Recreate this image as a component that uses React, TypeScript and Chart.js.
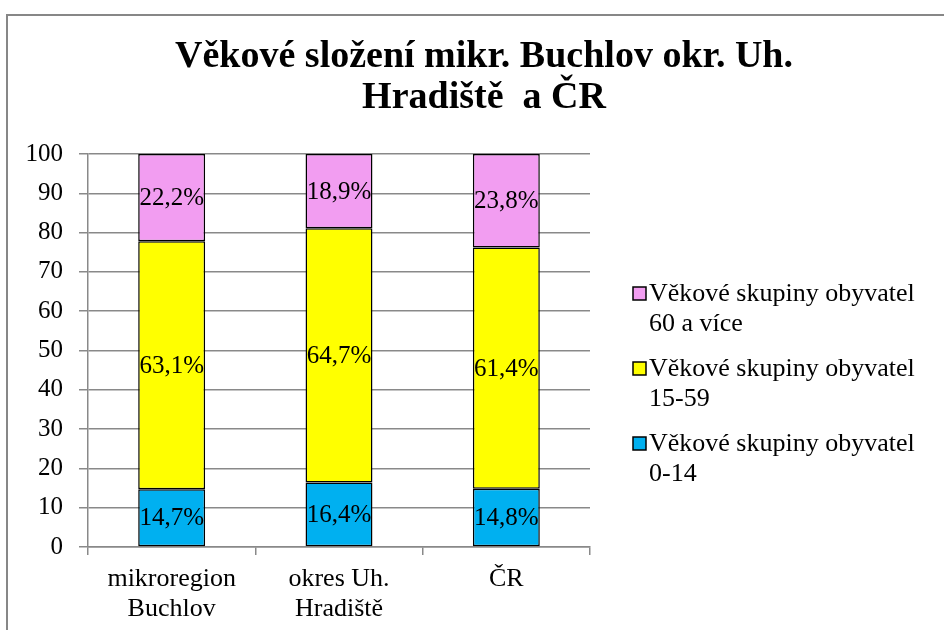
import React, { useEffect, useRef } from 'react';
import { Chart, registerables } from 'chart.js';

Chart.register(...registerables);

const categories: (string | string[])[] = [['mikroregion', 'Buchlov'], ['okres Uh.', 'Hradiště'], 'ČR'];
const age0to14 = [14.7, 16.4, 14.8];
const age15to59 = [63.1, 64.7, 61.4];
const age60plus = [22.2, 18.9, 23.8];
const seriesLabels = [
  ['Věkové skupiny obyvatel', '0-14'],
  ['Věkové skupiny obyvatel', '15-59'],
  ['Věkové skupiny obyvatel', '60 a více'],
];
const seriesColors = ['#00B0F0', '#FFFF00', '#F29DF1'];
const titleLines = ['Věkové složení mikr. Buchlov okr. Uh.', 'Hradiště  a ČR'];
const yMin = 0;
const yMax = 100;
const yStep = 10;

const FONT = '"Liberation Serif", "Times New Roman", serif';
const GRID = '#898989';

const titlePlugin = {
  id: 'customTitle',
  afterDraw(chart: any) {
    const ctx = chart.ctx;
    ctx.save();
    ctx.fillStyle = '#000';
    ctx.font = `bold 38px ${FONT}`;
    ctx.textAlign = 'center';
    ctx.textBaseline = 'alphabetic';
    titleLines.forEach((line, i) => ctx.fillText(line, 484, 67 + i * 41));
    ctx.restore();
  },
};

const dataLabelPlugin = {
  id: 'dataLabels',
  afterDatasetsDraw(chart: any) {
    const ctx = chart.ctx;
    ctx.save();
    ctx.fillStyle = '#000';
    ctx.font = `25px ${FONT}`;
    ctx.textAlign = 'center';
    ctx.textBaseline = 'middle';
    chart.data.datasets.forEach((ds: any, di: number) => {
      const meta = chart.getDatasetMeta(di);
      meta.data.forEach((bar: any, i: number) => {
        const v = ds.data[i];
        const txt = v.toFixed(1).replace('.', ',') + '%';
        ctx.fillText(txt, bar.x, (bar.y + bar.base) / 2 + 1);
      });
    });
    ctx.restore();
  },
};

const legendPlugin = {
  id: 'customLegend',
  afterDraw(chart: any) {
    const ctx = chart.ctx;
    const dss = chart.data.datasets;
    ctx.save();
    ctx.font = `26px ${FONT}`;
    ctx.textAlign = 'left';
    ctx.textBaseline = 'alphabetic';
    for (let k = 0; k < dss.length; k++) {
      const di = dss.length - 1 - k;
      const ds = dss[di];
      const base = 301 + k * 75;
      ctx.fillStyle = ds.backgroundColor;
      ctx.fillRect(633, base - 14, 13, 13);
      ctx.strokeStyle = '#000';
      ctx.lineWidth = 1.5;
      ctx.strokeRect(633, base - 14, 13, 13);
      ctx.fillStyle = '#000';
      const lines: string[] = seriesLabels[di];
      lines.forEach((ln, j) => ctx.fillText(ln, 649, base + j * 30));
    }
    ctx.restore();
  },
};

export default function App() {
  const ref = useRef<HTMLCanvasElement | null>(null);
  useEffect(() => {
    if (!ref.current) return;
    const series = [age0to14, age15to59, age60plus];
    const chart = new Chart(ref.current, {
      type: 'bar',
      data: {
        labels: categories as any,
        datasets: series.map((d, i) => ({
          label: seriesLabels[i].join(' '),
          data: d,
          backgroundColor: seriesColors[i],
          borderColor: '#000',
          borderWidth: 1.5,
          borderSkipped: false,
          barPercentage: 0.4,
          categoryPercentage: 1,
        })),
      },
      options: {
        responsive: false,
        animation: false,
        devicePixelRatio: 1,
        layout: { padding: { top: 154, right: 354, left: 0, bottom: 0 } },
        plugins: {
          legend: { display: false },
          title: { display: false },
          tooltip: { enabled: false },
        },
        scales: {
          x: {
            stacked: true,
            afterFit: (s: any) => { s.height = 83; },
            grid: {
              display: true,
              drawOnChartArea: false,
              drawTicks: true,
              tickLength: 8,
              color: GRID,
              lineWidth: 1.5,
              offset: true,
            },
            border: { display: true, color: GRID, width: 1.5 },
            ticks: {
              color: '#000',
              padding: 9,
              maxRotation: 0,
              autoSkip: false,
              font: { family: FONT, size: 26, lineHeight: '30px' as any },
            },
          },
          y: {
            stacked: true,
            min: yMin,
            max: yMax,
            afterFit: (s: any) => { s.width = 88; },
            grid: {
              color: GRID,
              lineWidth: 1.5,
              drawTicks: true,
              tickLength: 9,
            },
            border: { display: true, color: GRID, width: 1.5 },
            ticks: {
              stepSize: yStep,
              color: '#000',
              padding: 16,
              font: { family: FONT, size: 25 },
            },
          },
        },
      },
      plugins: [dataLabelPlugin, legendPlugin, titlePlugin],
    });
    return () => chart.destroy();
  }, []);

  return (
    <div style={{ position: 'fixed', left: 0, top: 0, width: 944, height: 630, overflow: 'hidden', background: '#fff' }}>
      <div style={{ position: 'absolute', left: 6, top: 14, width: 1000, height: 700, border: '2px solid #878787' }} />
      <canvas ref={ref} width={944} height={630} style={{ position: 'absolute', left: 0, top: 0, width: 944, height: 630 }} />
    </div>
  );
}
